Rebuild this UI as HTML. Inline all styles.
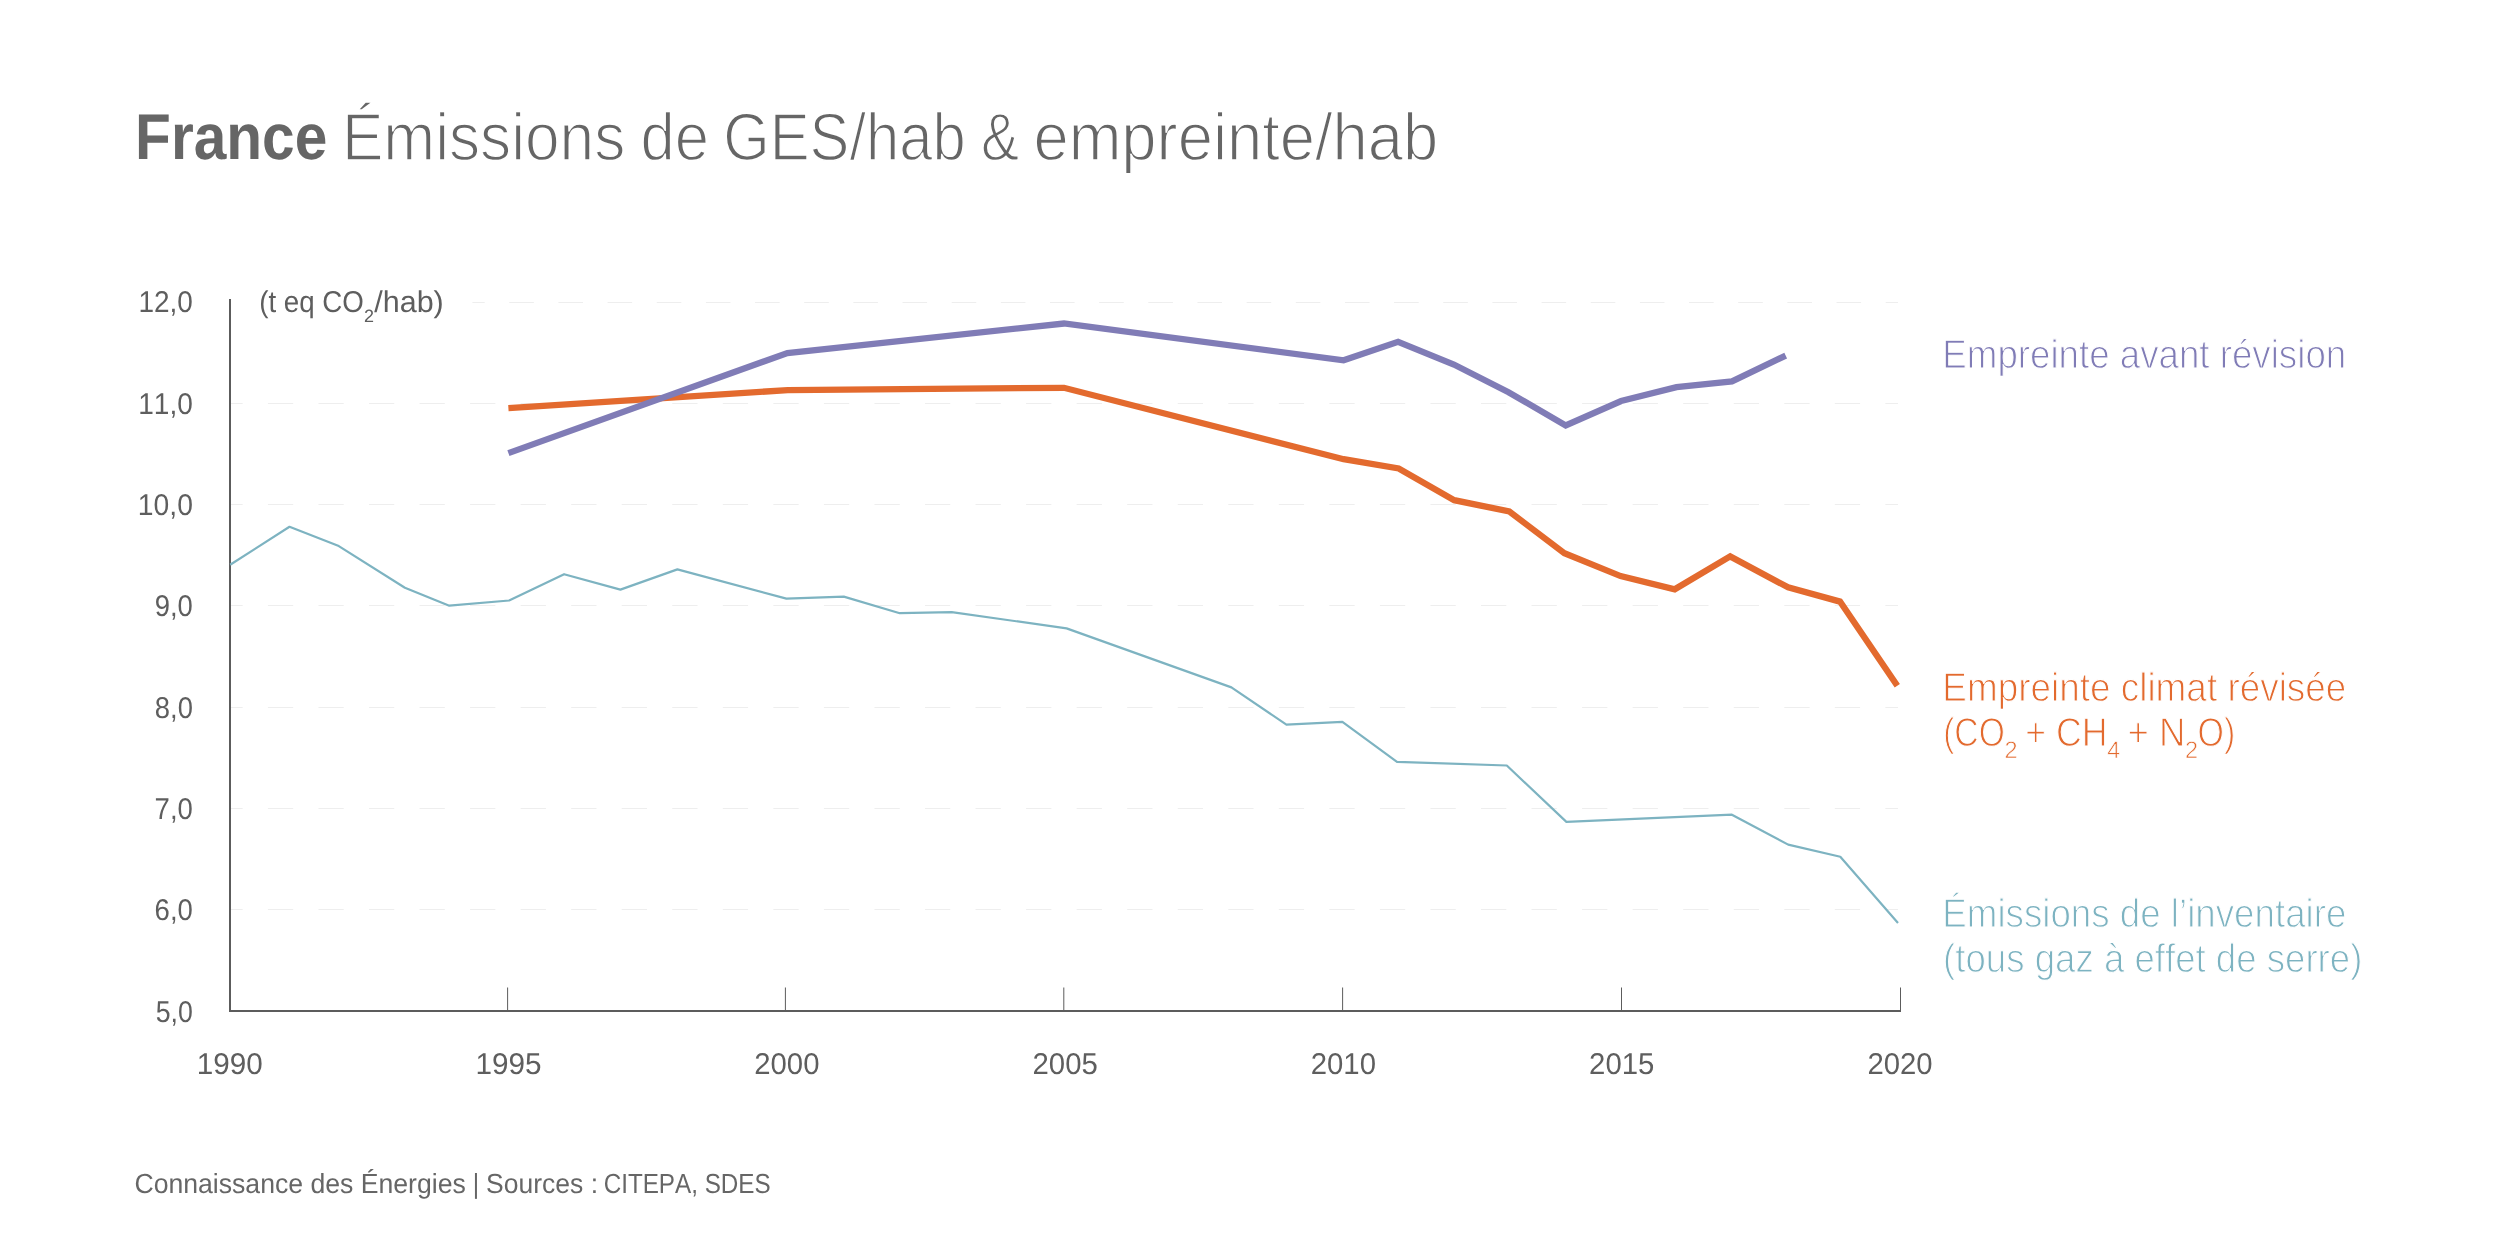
<!DOCTYPE html>
<html><head><meta charset="utf-8">
<style>
html,body{margin:0;padding:0;background:#fff;width:2500px;height:1250px;overflow:hidden}
svg{display:block;will-change:transform}
text{font-family:"Liberation Sans",sans-serif;font-kerning:none;text-rendering:geometricPrecision}
</style></head><body>
<svg width="2500" height="1250" viewBox="0 0 2500 1250">
<rect width="2500" height="1250" fill="#fff"/>
<text transform="translate(135.08,159.30) scale(0.9063,1)" font-size="64.68" fill="#666666" font-weight="bold">France</text>
<text transform="translate(341.90,160.00) scale(0.9280,1)" font-size="67.01" fill="#666666" stroke="#fff" stroke-width="1.6">Émissions</text>
<text transform="translate(640.51,160.00) scale(0.9194,1)" font-size="67.01" fill="#666666" stroke="#fff" stroke-width="1.6">de</text>
<text transform="translate(723.30,160.00) scale(0.8915,1)" font-size="67.01" fill="#666666" stroke="#fff" stroke-width="1.6">GES/hab</text>
<text transform="translate(981.09,160.00) scale(0.8525,1)" font-size="67.01" fill="#666666" stroke="#fff" stroke-width="1.6">&amp;</text>
<text transform="translate(1033.41,160.00) scale(0.9451,1)" font-size="67.01" fill="#666666" stroke="#fff" stroke-width="1.6">empreinte/hab</text>
<line x1="472.4" y1="302.5" x2="1898.0" y2="302.5" stroke="#eeeeee" stroke-width="1" stroke-dasharray="24.579 24.579" stroke-dashoffset="12.290"/>
<line x1="230.0" y1="403.5" x2="1898.0" y2="403.5" stroke="#eeeeee" stroke-width="1" stroke-dasharray="25.273 25.273" stroke-dashoffset="12.636"/>
<line x1="230.0" y1="504.5" x2="1898.0" y2="504.5" stroke="#eeeeee" stroke-width="1" stroke-dasharray="25.273 25.273" stroke-dashoffset="12.636"/>
<line x1="230.0" y1="605.5" x2="1898.0" y2="605.5" stroke="#eeeeee" stroke-width="1" stroke-dasharray="25.273 25.273" stroke-dashoffset="12.636"/>
<line x1="230.0" y1="707.5" x2="1898.0" y2="707.5" stroke="#eeeeee" stroke-width="1" stroke-dasharray="25.273 25.273" stroke-dashoffset="12.636"/>
<line x1="230.0" y1="808.5" x2="1898.0" y2="808.5" stroke="#eeeeee" stroke-width="1" stroke-dasharray="25.273 25.273" stroke-dashoffset="12.636"/>
<line x1="230.0" y1="909.5" x2="1898.0" y2="909.5" stroke="#eeeeee" stroke-width="1" stroke-dasharray="25.273 25.273" stroke-dashoffset="12.636"/>
<text transform="translate(138.47,312.00) scale(0.9294,1)" font-size="30.09" fill="#5e5e5e">12,0</text>
<text transform="translate(138.26,413.80) scale(0.9330,1)" font-size="30.09" fill="#5e5e5e">11,0</text>
<text transform="translate(137.85,515.00) scale(0.9402,1)" font-size="30.09" fill="#5e5e5e">10,0</text>
<text transform="translate(154.71,616.40) scale(0.9123,1)" font-size="30.09" fill="#5e5e5e">9,0</text>
<text transform="translate(154.81,717.60) scale(0.9099,1)" font-size="30.09" fill="#5e5e5e">8,0</text>
<text transform="translate(154.59,818.80) scale(0.9154,1)" font-size="30.09" fill="#5e5e5e">7,0</text>
<text transform="translate(154.60,920.00) scale(0.9151,1)" font-size="30.09" fill="#5e5e5e">6,0</text>
<text transform="translate(155.73,1021.80) scale(0.8873,1)" font-size="30.09" fill="#5e5e5e">5,0</text>
<text transform="translate(259.18,311.90) scale(0.9213,1)" font-size="30.09" fill="#5e5e5e">(t eq CO</text>
<text transform="translate(363.99,321.70) scale(1.0068,1)" font-size="17.88" fill="#5e5e5e">2</text>
<text transform="translate(374.30,311.90) scale(1.0133,1)" font-size="30.09" fill="#5e5e5e">/hab)</text>
<rect x="507.1" y="987.5" width="1" height="23.5" fill="#5c5c5c"/>
<rect x="784.9" y="987.5" width="1" height="23.5" fill="#5c5c5c"/>
<rect x="1063.3" y="987.5" width="1" height="23.5" fill="#5c5c5c"/>
<rect x="1342.1" y="987.5" width="1" height="23.5" fill="#5c5c5c"/>
<rect x="1621.0" y="987.5" width="1" height="23.5" fill="#5c5c5c"/>
<rect x="1900.0" y="987.5" width="1" height="23.5" fill="#5c5c5c"/>
<path d="M230,299 V1011 H1901" fill="none" stroke="#5c5c5c" stroke-width="2"/>
<polyline points="230.2,564.8 289.5,526.8 338.8,546.1 404.9,587.8 449.3,605.7 509.1,600.5 564.1,574.2 620.4,589.6 677.4,569.4 786.4,598.6 843.8,596.6 899.8,613.2 951.7,612.1 1066.6,628.4 1231.4,687.4 1286.4,724.6 1342.4,721.8 1397.0,761.8 1506.8,765.5 1566.4,821.9 1731.9,814.7 1788.2,844.6 1840.3,856.7 1898.0,923.0" fill="none" stroke="#7db3c1" stroke-width="2.2" stroke-linejoin="round"/>
<polyline points="508.4,408.2 787.7,390.1 1064.0,387.8 1343.6,459.2 1398.7,468.5 1454.2,500.2 1509.3,511.5 1564.4,553.2 1620.6,576.1 1674.7,589.3 1730.2,556.4 1788.1,587.4 1840.0,601.6 1897.3,685.7" fill="none" stroke="#e36a2e" stroke-width="6.3"/>
<polyline points="508.4,453.1 787.4,353.0 1064.0,323.5 1343.6,360.3 1398.1,341.8 1453.9,364.5 1508.5,392.2 1565.7,425.5 1621.1,401.0 1676.5,387.2 1732.0,381.3 1785.7,355.6" fill="none" stroke="#807cb6" stroke-width="6.3"/>
<text transform="translate(196.64,1073.90) scale(0.9864,1)" font-size="30.09" fill="#5e5e5e">1990</text>
<text transform="translate(475.44,1073.90) scale(0.9877,1)" font-size="30.09" fill="#5e5e5e">1995</text>
<text transform="translate(754.23,1073.90) scale(0.9744,1)" font-size="30.09" fill="#5e5e5e">2000</text>
<text transform="translate(1032.52,1073.90) scale(0.9757,1)" font-size="30.09" fill="#5e5e5e">2005</text>
<text transform="translate(1310.73,1073.90) scale(0.9744,1)" font-size="30.09" fill="#5e5e5e">2010</text>
<text transform="translate(1589.12,1073.90) scale(0.9757,1)" font-size="30.09" fill="#5e5e5e">2015</text>
<text transform="translate(1867.43,1073.90) scale(0.9744,1)" font-size="30.09" fill="#5e5e5e">2020</text>
<text transform="translate(1942.34,367.55) scale(0.9117,1)" font-size="40.26" fill="#807cb6" stroke="#fff" stroke-width="1.1">Empreinte avant révision</text>
<text transform="translate(1942.32,700.85) scale(0.9169,1)" font-size="40.26" fill="#e36a2e" stroke="#fff" stroke-width="1.1">Empreinte climat révisée</text>
<text transform="translate(1943.16,745.55) scale(0.8360,1)" font-size="40.26" fill="#e36a2e" stroke="#fff" stroke-width="1.1">(CO</text>
<text transform="translate(2004.52,758.10) scale(0.9853,1)" font-size="23.84" fill="#e36a2e" stroke="#fff" stroke-width="0.6">2</text>
<text transform="translate(2025.21,745.55) scale(0.8870,1)" font-size="40.26" fill="#e36a2e" stroke="#fff" stroke-width="1.1">+ CH</text>
<text transform="translate(2107.17,758.10) scale(0.9657,1)" font-size="23.84" fill="#e36a2e" stroke="#fff" stroke-width="0.6">4</text>
<text transform="translate(2127.56,745.55) scale(0.9090,1)" font-size="40.26" fill="#e36a2e" stroke="#fff" stroke-width="1.1">+ N</text>
<text transform="translate(2184.92,758.10) scale(0.9853,1)" font-size="23.84" fill="#e36a2e" stroke="#fff" stroke-width="0.6">2</text>
<text transform="translate(2197.44,745.55) scale(0.8457,1)" font-size="40.26" fill="#e36a2e" stroke="#fff" stroke-width="1.1">O)</text>
<text transform="translate(1942.34,927.25) scale(0.9121,1)" font-size="40.26" fill="#7db3c1" stroke="#fff" stroke-width="1.1">Émissions de l’inventaire</text>
<text transform="translate(1943.08,972.35) scale(0.9098,1)" font-size="40.26" fill="#7db3c1" stroke="#fff" stroke-width="1.1">(tous gaz à effet de serre)</text>
<text transform="translate(134.45,1193.00) scale(0.9637,1)" font-size="27.62" fill="#666666">Connaissance des Énergies</text>
<text transform="translate(472.80,1193.00) scale(0.8935,1)" font-size="27.62" fill="#666666">|</text>
<text transform="translate(486.10,1193.00) scale(0.9594,1)" font-size="27.62" fill="#666666">Sources :</text>
<text transform="translate(603.67,1193.00) scale(0.8778,1)" font-size="27.62" fill="#666666">CITEPA, SDES</text>
</svg>
</body></html>
